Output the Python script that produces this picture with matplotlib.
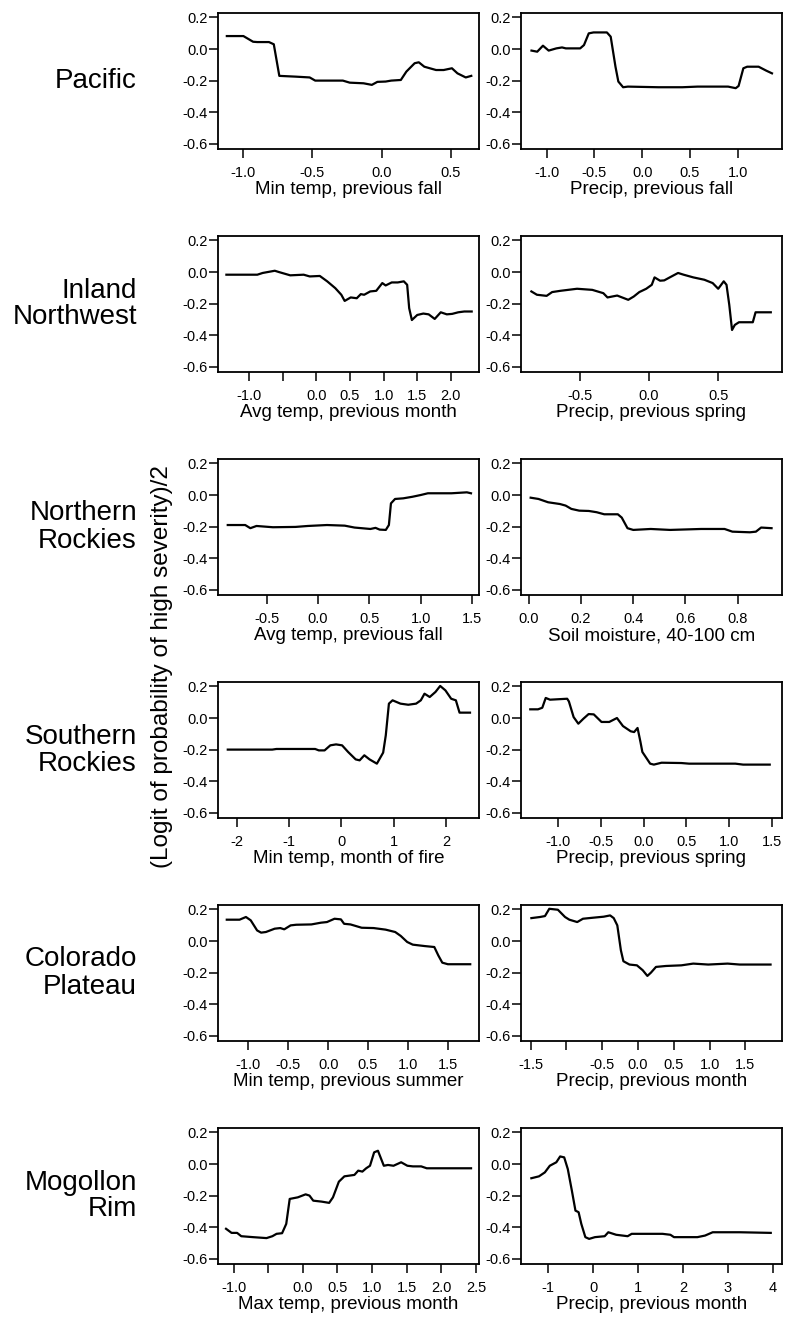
import matplotlib
matplotlib.use("Agg")
import matplotlib.pyplot as plt

plt.rcParams['font.family'] = ['Liberation Sans', 'DejaVu Sans']

# ---------------- data ----------------
regions = ["Pacific", "Inland\nNorthwest", "Northern\nRockies",
           "Southern\nRockies", "Colorado\nPlateau", "Mogollon\nRim"]

xlabels = [["Min temp, previous fall", "Precip, previous fall"],
           ["Avg temp, previous month", "Precip, previous spring"],
           ["Avg temp, previous fall", "Soil moisture, 40-100 cm"],
           ["Min temp, month of fire", "Precip, previous spring"],
           ["Min temp, previous summer", "Precip, previous month"],
           ["Max temp, previous month", "Precip, previous month"]]

ylabel_text = "(Logit of probability of high severity)/2"
y_ticks = [0.2, 0.0, -0.2, -0.4, -0.6]
y_ticklabels = ["0.2", "0.0", "-0.2", "-0.4", "-0.6"]

# Pacific
pac_mintemp_x = [-1.12, -1.0, -0.93, -0.90, -0.815, -0.78, -0.74, -0.62, -0.52, -0.48, -0.28, -0.23,
                 -0.13, -0.07, -0.03, 0.03, 0.07, 0.14, 0.18, 0.24, 0.27, 0.31, 0.395, 0.45, 0.51,
                 0.55, 0.61, 0.65]
pac_mintemp_y = [0.082, 0.082, 0.046, 0.044, 0.044, 0.03, -0.17, -0.175, -0.18, -0.20, -0.20, -0.213,
                 -0.217, -0.227, -0.208, -0.206, -0.20, -0.196, -0.143, -0.09, -0.084, -0.112, -0.133,
                 -0.133, -0.122, -0.154, -0.18, -0.17]
pac_precip_x = [-1.16, -1.10, -1.04, -0.98, -0.90, -0.84, -0.80, -0.65, -0.61, -0.56, -0.51, -0.37,
                -0.33, -0.28, -0.25, -0.20, -0.15, 0.17, 0.42, 0.58, 0.90, 0.98, 1.01, 1.06, 1.10,
                1.22, 1.30, 1.36]
pac_precip_y = [-0.01, -0.017, 0.021, -0.01, 0.004, 0.01, 0.004, 0.004, 0.025, 0.099, 0.105, 0.105,
                0.078, -0.112, -0.206, -0.242, -0.238, -0.242, -0.242, -0.238, -0.238, -0.248, -0.234,
                -0.122, -0.112, -0.112, -0.137, -0.154]

# Inland Northwest
inw_avgtemp_x = [-1.34, -0.88, -0.80, -0.62, -0.56, -0.39, -0.19, -0.10, 0.05, 0.16, 0.28, 0.37, 0.42,
                 0.51, 0.60, 0.66, 0.71, 0.80, 0.89, 0.98, 1.03, 1.12, 1.21, 1.30, 1.35, 1.38, 1.42,
                 1.50, 1.59, 1.67, 1.76, 1.85, 1.94, 2.02, 2.11, 2.20, 2.31]
inw_avgtemp_y = [-0.017, -0.017, -0.006, 0.008, 0.0, -0.021, -0.017, -0.028, -0.025, -0.059, -0.102,
                 -0.144, -0.183, -0.161, -0.166, -0.14, -0.144, -0.123, -0.119, -0.07, -0.085, -0.066,
                 -0.066, -0.059, -0.081, -0.229, -0.304, -0.272, -0.263, -0.268, -0.297, -0.255,
                 -0.268, -0.265, -0.255, -0.25, -0.25]
inw_precip_x = [-0.85, -0.81, -0.74, -0.70, -0.64, -0.52, -0.41, -0.33, -0.30, -0.23, -0.15, -0.11,
                -0.07, -0.02, 0.02, 0.04, 0.08, 0.11, 0.15, 0.21, 0.25, 0.32, 0.40, 0.46, 0.50, 0.54,
                0.56, 0.58, 0.60, 0.62, 0.65, 0.75, 0.77, 0.88]
inw_precip_y = [-0.123, -0.144, -0.151, -0.127, -0.119, -0.106, -0.113, -0.134, -0.161, -0.149,
                -0.176, -0.155, -0.127, -0.106, -0.081, -0.034, -0.055, -0.053, -0.034, -0.006,
                -0.017, -0.034, -0.049, -0.07, -0.106, -0.059, -0.081, -0.208, -0.367, -0.335,
                -0.318, -0.318, -0.255, -0.255]

# Northern Rockies
nr_avgtemp_x = [-0.88, -0.71, -0.66, -0.60, -0.44, -0.22, -0.10, 0.087, 0.26, 0.355, 0.51, 0.56, 0.60,
                0.66, 0.69, 0.71, 0.75, 0.83, 0.92, 1.0, 1.07, 1.30, 1.45, 1.49]
nr_avgtemp_y = [-0.19, -0.19, -0.21, -0.196, -0.204, -0.202, -0.196, -0.19, -0.194, -0.206, -0.215,
                -0.208, -0.219, -0.221, -0.19, -0.053, -0.025, -0.021, -0.011, 0.0, 0.011, 0.011,
                0.017, 0.011]
nr_soil_x = [0.007, 0.037, 0.074, 0.119, 0.141, 0.163, 0.193, 0.23, 0.26, 0.289, 0.341, 0.356, 0.378,
             0.40, 0.467, 0.541, 0.66, 0.75, 0.78, 0.847, 0.87, 0.89, 0.93]
nr_soil_y = [-0.017, -0.025, -0.046, -0.057, -0.067, -0.088, -0.099, -0.101, -0.109, -0.122, -0.122,
             -0.143, -0.21, -0.221, -0.215, -0.221, -0.215, -0.215, -0.232, -0.236, -0.232, -0.206,
             -0.21]

# Southern Rockies
sr_mintemp_x = [-2.17, -1.32, -1.24, -0.50, -0.43, -0.32, -0.21, -0.10, 0.015, 0.13, 0.275, 0.35, 0.44,
                0.54, 0.68, 0.80, 0.85, 0.91, 0.98, 1.13, 1.28, 1.43, 1.52, 1.59, 1.69, 1.80, 1.89,
                1.99, 2.10, 2.19, 2.26, 2.46]
sr_mintemp_y = [-0.20, -0.20, -0.196, -0.196, -0.205, -0.205, -0.173, -0.167, -0.173, -0.215, -0.262,
                -0.268, -0.236, -0.262, -0.289, -0.219, -0.11, 0.091, 0.112, 0.091, 0.084, 0.091,
                0.112, 0.154, 0.133, 0.165, 0.203, 0.175, 0.122, 0.112, 0.034, 0.034]
sr_precip_x = [-1.32, -1.23, -1.18, -1.14, -1.09, -0.89, -0.87, -0.815, -0.76, -0.70, -0.64, -0.58,
               -0.49, -0.40, -0.31, -0.24, -0.15, -0.11, -0.07, -0.036, -0.014, 0.077, 0.12, 0.21,
               0.44, 0.53, 1.07, 1.16, 1.47]
sr_precip_y = [0.055, 0.055, 0.065, 0.127, 0.116, 0.122, 0.105, 0.006, -0.036, -0.004, 0.025, 0.023,
               -0.025, -0.025, 0.0, -0.051, -0.084, -0.089, -0.063, -0.152, -0.215, -0.289, -0.295,
               -0.283, -0.285, -0.289, -0.289, -0.295, -0.295]

# Colorado Plateau
cp_mintemp_x = [-1.27, -1.11, -1.03, -0.97, -0.89, -0.84, -0.78, -0.67, -0.60, -0.55, -0.47, -0.40,
                -0.21, -0.09, -0.015, 0.08, 0.16, 0.20, 0.28, 0.42, 0.57, 0.72, 0.84, 0.91, 0.99,
                1.06, 1.21, 1.33, 1.38, 1.43, 1.50, 1.78]
cp_mintemp_y = [0.135, 0.135, 0.152, 0.131, 0.067, 0.053, 0.057, 0.078, 0.082, 0.074, 0.099, 0.103,
                0.105, 0.116, 0.12, 0.141, 0.137, 0.109, 0.105, 0.084, 0.082, 0.072, 0.057, 0.032,
                -0.006, -0.023, -0.032, -0.038, -0.091, -0.137, -0.147, -0.147]
cp_precip_x = [-1.49, -1.37, -1.30, -1.24, -1.12, -1.02, -0.96, -0.85, -0.77, -0.64, -0.48, -0.39,
               -0.34, -0.29, -0.24, -0.205, -0.12, -0.016, 0.065, 0.13, 0.18, 0.25, 0.39, 0.605,
               0.77, 0.98, 1.25, 1.42, 1.85]
cp_precip_y = [0.145, 0.152, 0.158, 0.204, 0.198, 0.152, 0.135, 0.12, 0.141, 0.147, 0.154, 0.162,
               0.145, 0.099, -0.059, -0.128, -0.149, -0.154, -0.185, -0.221, -0.20, -0.164, -0.158,
               -0.154, -0.143, -0.149, -0.143, -0.149, -0.149]

# Mogollon Rim
mr_maxtemp_x = [-1.11, -1.03, -0.95, -0.89, -0.72, -0.525, -0.44, -0.38, -0.30, -0.24, -0.19, -0.073,
                0.04, 0.096, 0.15, 0.27, 0.38, 0.435, 0.52, 0.60, 0.745, 0.80, 0.86, 0.915, 0.97,
                1.03, 1.085, 1.17, 1.23, 1.31, 1.42, 1.51, 1.59, 1.71, 1.79, 2.16, 2.43]
mr_maxtemp_y = [-0.41, -0.436, -0.436, -0.457, -0.463, -0.469, -0.457, -0.442, -0.438, -0.379,
                -0.221, -0.211, -0.192, -0.2, -0.232, -0.238, -0.246, -0.211, -0.112, -0.078,
                -0.069, -0.042, -0.048, -0.027, -0.011, 0.074, 0.084, -0.011, -0.006, -0.011,
                0.011, -0.011, -0.015, -0.015, -0.027, -0.027, -0.027]
mr_precip_x = [-1.37, -1.20, -1.07, -0.96, -0.815, -0.73, -0.64, -0.56, -0.47, -0.39, -0.32, -0.26,
               -0.17, -0.086, 0.043, 0.26, 0.34, 0.515, 0.77, 0.86, 1.545, 1.72, 1.80, 2.32, 2.49,
               2.66, 2.83, 3.26, 3.95]
mr_precip_y = [-0.09, -0.078, -0.053, -0.011, 0.011, 0.048, 0.042, -0.032, -0.168, -0.295, -0.305,
               -0.379, -0.463, -0.474, -0.463, -0.457, -0.432, -0.448, -0.457, -0.442, -0.442,
               -0.448, -0.463, -0.463, -0.453, -0.432, -0.432, -0.432, -0.436]

series = [[(pac_mintemp_x, pac_mintemp_y), (pac_precip_x, pac_precip_y)],
          [(inw_avgtemp_x, inw_avgtemp_y), (inw_precip_x, inw_precip_y)],
          [(nr_avgtemp_x, nr_avgtemp_y), (nr_soil_x, nr_soil_y)],
          [(sr_mintemp_x, sr_mintemp_y), (sr_precip_x, sr_precip_y)],
          [(cp_mintemp_x, cp_mintemp_y), (cp_precip_x, cp_precip_y)],
          [(mr_maxtemp_x, mr_maxtemp_y), (mr_precip_x, mr_precip_y)]]

x_ticks = [[[-1.0, -0.5, 0.0, 0.5], [-1.0, -0.5, 0.0, 0.5, 1.0]],
           [[-1.0, -0.5, 0.0, 0.5, 1.0, 1.5, 2.0], [-0.5, 0.0, 0.5]],
           [[-0.5, 0.0, 0.5, 1.0, 1.5], [0.0, 0.2, 0.4, 0.6, 0.8]],
           [[-2, -1, 0, 1, 2], [-1.0, -0.5, 0.0, 0.5, 1.0, 1.5]],
           [[-1.0, -0.5, 0.0, 0.5, 1.0, 1.5], [-1.5, -1.0, -0.5, 0.0, 0.5, 1.0, 1.5]],
           [[-1.0, -0.5, 0.0, 0.5, 1.0, 1.5, 2.0, 2.5], [-1, 0, 1, 2, 3, 4]]]
x_ticklabels = [[["-1.0", "-0.5", "0.0", "0.5"], ["-1.0", "-0.5", "0.0", "0.5", "1.0"]],
                [["-1.0", "", "0.0", "0.5", "1.0", "1.5", "2.0"], ["-0.5", "0.0", "0.5"]],
                [["-0.5", "0.0", "0.5", "1.0", "1.5"], ["0.0", "0.2", "0.4", "0.6", "0.8"]],
                [["-2", "-1", "0", "1", "2"], ["-1.0", "-0.5", "0.0", "0.5", "1.0", "1.5"]],
                [["-1.0", "-0.5", "0.0", "0.5", "1.0", "1.5"],
                 ["-1.5", "", "-0.5", "0.0", "0.5", "1.0", "1.5"]],
                [["-1.0", "", "0.0", "0.5", "1.0", "1.5", "2.0", "2.5"],
                 ["-1", "0", "1", "2", "3", "4"]]]

# axis ranges
x_lims = [[(-1.184, 0.706), (-1.27, 1.465)],
          [(-1.465, 2.419), (-0.925, 0.961)],
          [(-0.975, 1.568), (-0.030, 0.970)],
          [(-2.357, 2.632), (-1.428, 1.613)],
          [(-1.38, 1.89), (-1.635, 2.01)],
          [(-1.226, 2.545), (-1.60, 4.2)]]
y_lim = (-0.633, 0.228)

# ---------------- layout ----------------
W, H = 786, 1321
fig = plt.figure(figsize=(W / 100, H / 100), dpi=100)
fig.patch.set_facecolor("white")

col_left = [218, 521]
box_w = 261
box_h = 136
row_top0 = 13
row_step = 223

for r in range(6):
    top = row_top0 + r * row_step
    for c in range(2):
        ax = fig.add_axes([col_left[c] / W, 1 - (top + box_h) / H, box_w / W, box_h / H])
        xs, ys = series[r][c]
        ax.plot(xs, ys, color="black", lw=1.6, solid_joinstyle="round")
        ax.set_xlim(*x_lims[r][c])
        ax.set_ylim(*y_lim)
        ax.set_yticks(y_ticks)
        ax.set_yticklabels(y_ticklabels)
        ax.set_xticks(x_ticks[r][c])
        ax.set_xticklabels(x_ticklabels[r][c])
        ax.tick_params(axis="both", direction="out", length=6.5, width=1.1, colors="black")
        ax.tick_params(axis="y", pad=0.8, labelsize=10.5)
        ax.tick_params(axis="x", pad=6.0, labelsize=10.5)
        for s in ax.spines.values():
            s.set_linewidth(1.3)
            s.set_color("black")
        ax.set_xlabel(xlabels[r][c], fontsize=13.5, labelpad=0.5)
    cy = top + box_h / 2
    fig.text(137 / W, 1 - cy / H, regions[r], ha="right", va="center",
             multialignment="right", fontsize=20, linespacing=1.05)

fig.text(162 / W, 1 - 667 / H, ylabel_text, rotation=90, ha="center", va="center",
         fontsize=17.5)

fig.savefig("out.png", dpi=100, facecolor="white")
